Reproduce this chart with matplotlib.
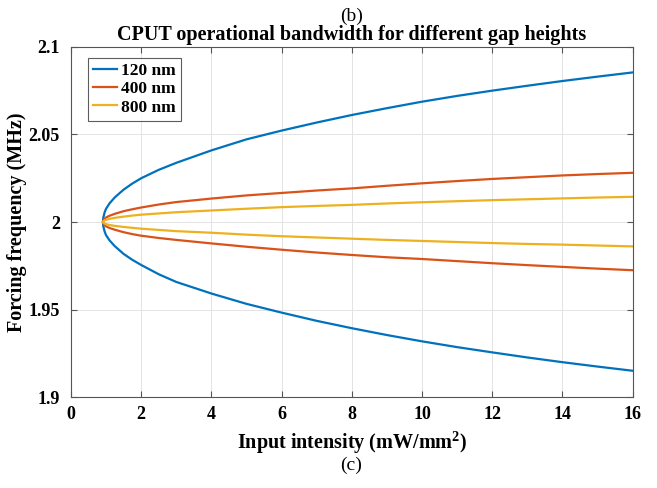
import matplotlib
matplotlib.use("Agg")
import matplotlib.pyplot as plt

# input intensity (mW/mm^2) sampled along each branch
x = [0.91, 0.92, 0.96, 1.0, 1.1, 1.25, 1.5, 1.75, 2, 2.5, 3, 4, 5, 6, 7, 8, 9, 10, 11, 12, 13, 14, 15, 16]

# forcing frequency (MHz), upper and lower branch per gap height
f120_up = [2.0, 2.0024, 2.0056, 2.0076, 2.0107, 2.0141, 2.0185, 2.0220, 2.0250, 2.0298, 2.0338, 2.0409,
           2.0472, 2.0522, 2.0568, 2.0611, 2.0650, 2.0687, 2.0720, 2.0750, 2.0778, 2.0805, 2.0830, 2.0854]
f120_lo = [2.0, 1.9977, 1.9945, 1.9925, 1.9895, 1.9862, 1.9818, 1.9784, 1.9755, 1.9702, 1.9658, 1.9592,
           1.9533, 1.9483, 1.9436, 1.9394, 1.9355, 1.9319, 1.9286, 1.9256, 1.9227, 1.9200, 1.9175, 1.9151]
f400_up = [2.0, 2.0008, 2.0019, 2.0026, 2.0036, 2.0047, 2.0062, 2.0073, 2.0083, 2.0100, 2.0114, 2.0134,
           2.0152, 2.0166, 2.0180, 2.0192, 2.0207, 2.0221, 2.0234, 2.0246, 2.0256, 2.0266, 2.0274, 2.0281]
f400_lo = [2.0, 1.9993, 1.9982, 1.9975, 1.9966, 1.9956, 1.9942, 1.9931, 1.9922, 1.9909, 1.9898, 1.9878,
           1.9859, 1.9842, 1.9826, 1.9812, 1.9799, 1.9789, 1.9777, 1.9765, 1.9754, 1.9744, 1.9734, 1.9725]
f800_up = [2.0, 2.0004, 2.0010, 2.0013, 2.0018, 2.0024, 2.0031, 2.0037, 2.0042, 2.0049, 2.0056, 2.0066,
           2.0076, 2.0085, 2.0092, 2.0098, 2.0106, 2.0113, 2.0119, 2.0125, 2.0130, 2.0135, 2.0140, 2.0144]
f800_lo = [2.0, 1.9996, 1.9991, 1.9988, 1.9983, 1.9978, 1.9972, 1.9967, 1.9962, 1.9955, 1.9948, 1.9939,
           1.9928, 1.9919, 1.9912, 1.9905, 1.9898, 1.9892, 1.9886, 1.9880, 1.9875, 1.9871, 1.9866, 1.9861]

labels = ["120 nm", "400 nm", "800 nm"]
colors = ["#0072BD", "#D95319", "#EDB120"]

xticks = [0, 2, 4, 6, 8, 10, 12, 14, 16]
yticks = [1.9, 1.95, 2.0, 2.05, 2.1]
yticklabels = ["1.9", "1.95", "2", "2.05", "2.1"]

plt.rcParams["font.family"] = ["Liberation Serif", "DejaVu Serif"]
plt.rcParams["mathtext.fontset"] = "custom"
plt.rcParams["mathtext.rm"] = "Liberation Serif"
plt.rcParams["mathtext.bf"] = "Liberation Serif:bold"

fig = plt.figure(figsize=(6.57, 4.88), dpi=100)
ax = fig.add_axes([0.108, 0.186, 0.855, 0.718])

for up, lo, lab, c in zip([f120_up, f400_up, f800_up], [f120_lo, f400_lo, f800_lo], labels, colors):
    xs = x[::-1] + x[1:]
    ys = lo[::-1] + up[1:]
    ax.plot(xs, ys, color=c, lw=1.6, label=lab)

ax.set_xlim(0, 16)
ax.set_ylim(1.9, 2.1)
ax.set_xticks(xticks)
ax.set_yticks(yticks)
ax.set_yticklabels(yticklabels)
ax.grid(True, color="#e3e3e3", lw=0.7)
ax.set_axisbelow(True)
ax.tick_params(direction="in", top=True, right=True, length=4, color="#555555", labelsize=13)
ax.tick_params(axis="x", pad=6)
ax.tick_params(axis="y", pad=8)
for lbl in ax.get_xticklabels() + ax.get_yticklabels():
    lbl.set_fontweight("bold")
for s in ax.spines.values():
    s.set_color("#555555")
    s.set_linewidth(0.8)

ax.set_xlabel("Input intensity (mW/mm$^{\\mathbf{2}}$)", fontsize=14.5, fontweight="bold", labelpad=5)
ax.set_ylabel("Forcing frequency (MHz)", fontsize=14.5, fontweight="bold", labelpad=1)
ax.set_title("CPUT operational bandwidth for different gap heights", fontsize=14.5,
             fontweight="bold", pad=5)

leg = ax.legend(loc="upper left", prop={"weight": "bold", "size": 12.5},
                frameon=True, fancybox=False, edgecolor="#333333", handlelength=1.4,
                handletextpad=0.2, borderpad=0.3, labelspacing=0.12, borderaxespad=0,
                bbox_to_anchor=(0.030, 0.969))
leg.get_frame().set_linewidth(0.8)

fig.text(0.535, 0.985, "(b)", ha="center", va="top", fontsize=14)
fig.text(0.535, 0.047, "(c)", ha="center", va="center", fontsize=14)

fig.savefig("out.png", dpi=100, facecolor="white")
